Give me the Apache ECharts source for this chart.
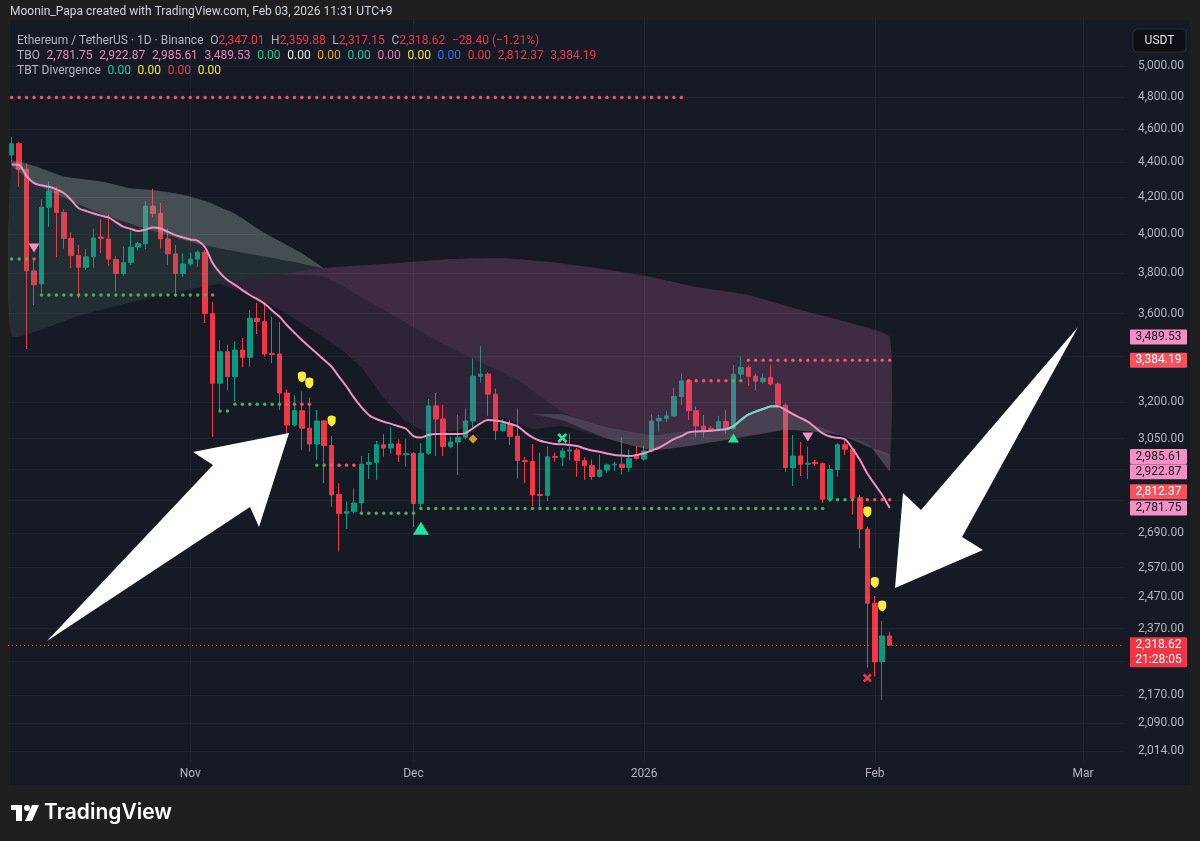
<!DOCTYPE html>
<html><head><meta charset="utf-8">
<script src="https://cdn.jsdelivr.net/npm/echarts@6/dist/echarts.min.js"></script>
<style>html,body{margin:0;padding:0;background:#1f1f1f;}#chart{width:1200px;height:841px;}</style>
</head><body><div id="chart"></div>
<script>
// ---------- DATA ----------
const firstDate = '2025-10-08';
const slotCount = 150; // days shown on the time axis (to early March)
const opens = [4443,4512,4360,3810,3745,4145,4236,4117,3978,3888,3828,3882,3985,3975,3868,3797,3852,3932,3950,4152,4112,3975,3897,3797,3845,3870,3905,3600,3282,3422,3311,3430,3397,3578,3562,3415,3412,3240,3105,3165,3092,3028,3122,3022,2832,2762,2768,2800,2948,2955,3025,3012,3028,2985,2990,2798,2991,3185,3130,3018,3036,3055,3122,3313,3322,3235,3082,3110,3060,2962,2958,2832,2828,2978,2975,3000,3004,2962,2942,2900,2925,2945,2948,2935,2984,2968,3000,3122,3133,3143,3225,3293,3165,3101,3092,3088,3120,3090,3322,3352,3313,3289,3307,3279,3188,2935,2980,2948,2955,2950,2814,2927,3025,3007,2820,2705,2451,2268,2347.01];
const highs = [4550,4520,4395,3865,4190,4290,4260,4135,4010,3945,3922,4030,4080,4105,3885,3935,4015,3960,4180,4250,4170,4030,3943,3900,3905,3915,3918,3655,3476,3455,3470,3485,3617,3652,3643,3585,3560,3255,3230,3246,3220,3168,3125,3060,2874,2805,2855,2980,2992,3041,3068,3096,3047,3047,2995,3031,3215,3240,3190,3058,3147,3175,3392,3447,3330,3260,3130,3125,3175,2977,3028,2994,3018,2994,3011,3071,3012,2975,2967,2985,2950,2958,3055,3006,3020,3020,3150,3147,3164,3262,3325,3300,3182,3147,3100,3143,3168,3362,3400,3360,3325,3325,3362,3285,3195,3064,3037,3018,2965,2955,2945,3032,3045,3010,2830,2715,2475,2394,2359.88];
const lows = [4404,4260,3435,3641,3700,4040,3880,3925,3824,3675,3815,3825,3900,3835,3706,3785,3840,3915,3922,4090,3925,3840,3680,3780,3835,3830,3555,3057,3160,3252,3205,3352,3355,3504,3400,3370,3168,3070,3100,3004,2997,2964,2874,2786,2625,2706,2762,2762,2890,2887,2977,2990,2957,2938,2712,2774,2984,2980,2980,3011,2906,3047,3096,3285,3143,3044,3078,3024,2893,2874,2789,2786,2807,2958,2940,2964,2899,2887,2887,2896,2914,2922,2908,2918,2966,2962,2995,3078,3118,3138,3189,3126,3055,3055,3078,3082,3071,3085,3304,3271,3250,3280,3272,3180,2918,2864,2902,2890,2940,2800,2805,2900,2984,2757,2637,2250,2224,2156,2317.15];
const closes = [4510,4360,3810,3740,4145,4236,4117,3978,3888,3828,3882,3980,3978,3870,3797,3852,3932,3950,4152,4112,3975,3897,3797,3845,3870,3905,3600,3282,3422,3311,3430,3397,3578,3562,3412,3410,3240,3105,3165,3092,3028,3122,3022,2830,2762,2768,2800,2948,2955,3025,3012,3028,2985,2990,2798,2991,3185,3130,3018,3036,3055,3122,3313,3322,3235,3082,3110,3058,2962,2958,2830,2828,2977,2975,3000,3004,2962,2942,2900,2925,2945,2948,2935,2970,2970,3000,3122,3133,3143,3225,3293,3165,3101,3085,3088,3119,3090,3322,3352,3313,3291,3304,3279,3188,2935,2980,2948,2952,2950,2814,2927,3025,3007,2818,2705,2451,2268,2347,2318.62];

// TBO fast line (pink, teal while bullish)
const tboLine = [4388,4385,4320,4280,4268,4260,4245,4225,4185,4140,4125,4111,4100,4090,4065,4040,4028,4017,4025,4036,4030,4012,3995,3983,3972,3965,3930,3850,3800,3764,3740,3714,3690,3670,3648,3615,3585,3545,3510,3476,3445,3415,3385,3355,3310,3268,3220,3180,3147,3130,3119,3110,3100,3090,3060,3054,3064,3068,3068,3068,3068,3072,3092,3112,3126,3124,3119,3110,3100,3075,3055,3041,3034,3028,3027,3024,3020,3010,3002,2997,2990,2984,2982,2980,2984,2991,3002,3013,3030,3048,3060,3075,3079,3080,3082,3085,3088,3100,3126,3148,3161,3172,3183,3184,3168,3150,3135,3119,3095,3071,3058,3053,3047,3010,2965,2912,2870,2830,2781.75];
const tboTealFrom = 96, tboTealTo = 103;

// cloud edges: [day index, price]
const grayTop = [[-0.5,4410],[3,4380],[7,4318],[12,4290],[16,4252],[19,4241],[23,4215],[26,4180],[30,4110],[34,4006],[39,3900],[42,3822]];
const grayMid = [[-0.5,4380],[3,4280],[7,4200],[12,4110],[18,4030],[24,3960],[28,3925],[33,3890],[38,3855],[42,3822]];
const slowTop = [[-0.5,3495],[9,3590],[18,3672],[28,3745],[36,3792],[42,3825],[52,3850],[59,3870],[66,3874],[72,3856],[79,3822],[86,3779],[92,3729],[99,3690],[106,3617],[113,3553],[118,3489.53]];
const purpleMid = [[28,3745],[36,3790],[42,3780],[50,3617],[59,3440],[68,3296],[74,3160],[80,3090],[86,3064],[90,3078],[96,3092],[99,3142],[102,3189],[104,3175],[108,3105],[112,3058],[115,3018],[118,2985.61]];
const purpleLow = [[28,3745],[32,3690],[36,3620],[41,3510],[44,3440],[47,3350],[50,3220],[53,3120],[56,3075],[60,3085],[63,3120],[66,3135],[70,3090],[74,3100],[80,3050],[86,3004],[91,3020],[96,3044],[100,3065],[104,3085],[110,3071],[115,3031],[118,2922.87]];
const grayLowTop = [[70,3150],[74,3150],[80,3095],[86,3064],[90,3078],[96,3092],[99,3142],[102,3189],[104,3175],[108,3105],[112,3058],[115,3018],[118,2985.61]];
const grayLowBot = [[70,3150],[74,3125],[80,3050],[86,3004],[91,3020],[96,3044],[100,3065],[104,3085],[110,3071],[115,3031],[118,2922.87]];

// dotted support / resistance levels
const levelStart = [0,3,4,27,28,30,37,41,43,47,55,110,114,91,97,99,0];
const levelEnd   = [2,3,26,27,29,36,40,42,46,54,109,113,118,96,98,118,90];
const levelPrice = [3870,3870,3690,3690,3164,3192,3192,2944,2944,2762,2780,2812.37,2812.37,3293,3293,3384.19,4795];
const levelSide  = ['g','r','g','r','g','g','r','g','r','g','g','g','r','r','g','r','r'];

// signal markers
const markerIdx   = [3,39,40,43,55,62,74,97,107,115,116,117,115];
const markerPrice = [3927,3310,3283,3122,2708,3048,3052,3052,3056,2767,2520,2442,2220];
const markerKind  = ['bearTri','drop','drop','drop','bullTriBig','diamond','bullX','bullTri','bearTri','drop','drop','drop','bearX'];

// axis ticks
const xTickIdx = [24,54,85,116,144];
const xTickText = ['Nov','Dec','2026','Feb','Mar'];
const yTicks = [5000,4800,4600,4400,4200,4000,3800,3600,3400,3200,3050,2930,2810,2690,2570,2470,2370,2270,2170,2090,2014];
const yTicksHidden = [3400,2930,2810,2270];

// right-hand price tags
const tagValues = [3489.53,3384.19,2985.61,2922.87,2812.37,2781.75];
const tagKind   = ['pink','red','pink','pink','red','pink'];
const tagNudge  = [0,0,2,1,-8,0];
const lastPrice = 2318.62, countdown = '21:28:05';

// ---------- BUILD ----------
const categories = [];
(function(){ const d0 = new Date(firstDate + 'T00:00:00Z'); for (let i = 0; i < slotCount; i++) { categories.push(new Date(d0.getTime() + i*86400000).toISOString().slice(0,10)); } })();
const candles = opens.map((o,i)=>[o, closes[i], lows[i], highs[i]]);
const tealPart = tboLine.map((v,i)=> (i>=tboTealFrom && i<=tboTealTo) ? v : '-');
const levelDots = {g:[], r:[]};
levelStart.forEach((s,k)=>{ for (let i=s;i<=levelEnd[k];i++) levelDots[levelSide[k]].push([i, levelPrice[k]]); });
const fmt = v => v.toLocaleString('en-US',{minimumFractionDigits:2,maximumFractionDigits:2});

const PINK = '#f48fc4', TEAL = '#5fe0c4', RED = '#f23645', GREEN_C = '#089981';
const FONT = 'Roboto, "Noto Sans", sans-serif';
const XPATH = 'path://M2,0 L5,3 L8,0 L10,2 L7,5 L10,8 L8,10 L5,7 L2,10 L0,8 L3,5 L0,2 Z';
const DROP = 'path://M0,3 C0,1 1.5,0 4,0 C6.5,0 8,1 8,3 L8,7 C8,9 6,11 4,12 C2,11 0,9 0,7 Z';

const kindStyle = {
  bearTri:   {symbol:'triangle', symbolRotate:180, symbolSize:[11,9], color:PINK},
  drop:      {symbol:DROP, symbolSize:[8,11], color:'#ffeb3b'},
  bullTriBig:{symbol:'triangle', symbolSize:[16,13], color:'#1fe59f'},
  bullTri:   {symbol:'triangle', symbolSize:[11,9], color:'#1fe59f'},
  diamond:   {symbol:'diamond', symbolSize:[9,9], color:'#d99a2b'},
  bullX:     {symbol:XPATH, symbolSize:[10,10], color:'#26e0a6'},
  bearX:     {symbol:XPATH, symbolSize:[9,9], color:RED}
};
const markerData = markerIdx.map((x,k)=>{ const s = kindStyle[markerKind[k]]; return {value:[x, markerPrice[k]], symbol:s.symbol, symbolSize:s.symbolSize, symbolRotate:s.symbolRotate||0, itemStyle:{color:s.color, opacity:1}}; });

function band(upper, lower, fill, z){
  return {type:'custom', z:z, silent:true, clip:true, data:[[0,3000]], encode:{x:0,y:1},
    renderItem:function(params, api){
      if (params.dataIndex !== 0) return;
      const pts = upper.map(p=>api.coord(p)).concat(lower.slice().reverse().map(p=>api.coord(p)));
      return {type:'polygon', shape:{points:pts, smooth:0.15}, style:{fill:fill}};
    }};
}

const chart = echarts.init(document.getElementById('chart'), null, {renderer:'canvas'});
const option = {
  backgroundColor:'#1f1f1f',
  animation:false,
  textStyle:{fontFamily:FONT},
  grid:{left:8, width:1116, top:20, bottom:79, outerBoundsMode:'none', containLabel:false},
  xAxis:{type:'category', data:categories, boundaryGap:true,
    axisLine:{show:false}, axisTick:{show:false}, splitLine:{show:false},
    axisLabel:{color:'#b2b5be', fontSize:12, margin:6, fontFamily:FONT,
      interval:(i)=>xTickIdx.indexOf(i)>=0,
      formatter:(v,i)=>{ const k = xTickIdx.indexOf(i); return k>=0 ? xTickText[k] : ''; }}},
  yAxis:{type:'log', logBase:10, min:1985.6, max:5315, position:'right',
    axisLine:{show:false}, axisTick:{show:false}, axisLabel:{show:false}, splitLine:{show:false}},
  series:[
    {type:'line', data:[], z:1, silent:true,
      markLine:{silent:true, symbol:['none','none'], animation:false,
        data: yTicks.map(v=>({yAxis:v, lineStyle:{color:'rgba(255,255,255,0.045)', width:1, type:'solid'},
          label:{show: yTicksHidden.indexOf(v)<0, position:'end', distance:14, color:'#b2b5be', fontSize:12, fontFamily:FONT, formatter:()=>fmt(v)}}))
          .concat(xTickIdx.map(i=>({xAxis:categories[i], lineStyle:{color:'rgba(255,255,255,0.045)', width:1, type:'solid'}, label:{show:false}})))
      }},
    {type:'candlestick', data:candles, z:2, barWidth:5,
      itemStyle:{color:GREEN_C, color0:RED, borderColor:GREEN_C, borderColor0:RED, borderWidth:1}},
    band(grayTop, slowTop.filter(p=>p[0]<=42), 'rgba(90,140,120,0.18)', 3),
    band(grayTop, grayMid, 'rgba(160,165,165,0.28)', 3),
    band(slowTop.filter(p=>p[0]>=28), purpleLow, 'rgba(170,90,150,0.17)', 3),
    band(slowTop.filter(p=>p[0]>=28), purpleMid, 'rgba(200,110,170,0.11)', 3),
    band(grayLowTop, grayLowBot, 'rgba(150,150,160,0.26)', 3),
    {type:'line', data:tboLine, z:6, smooth:0.3, symbol:'none', silent:true, lineStyle:{color:PINK, width:2}},
    {type:'line', data:tealPart, z:7, smooth:0.3, symbol:'none', silent:true, lineStyle:{color:TEAL, width:2}},
    {type:'scatter', data:levelDots.g, z:8, symbol:'circle', symbolSize:3.5, silent:true, itemStyle:{color:'#4caf50', opacity:1}},
    {type:'scatter', data:levelDots.r, z:8, symbol:'circle', symbolSize:3.5, silent:true, itemStyle:{color:'#f7525f', opacity:1}},
    {type:'scatter', data:markerData, z:9, silent:true, itemStyle:{opacity:1}},
    {type:'line', data:[], z:9, silent:true,
      markLine:{silent:true, symbol:['none','none'], animation:false,
        data:[{yAxis:lastPrice, lineStyle:{color:RED, width:1, type:[1,3], opacity:0.9}, label:{show:false}}]}}
  ],
  graphic:[]
};
chart.setOption(option);

// ---------- DECORATION (panel, legend, tags, arrows, logo) ----------
const g = [];
g.push({type:'rect', z:-10, shape:{x:10,y:20,width:1180,height:765}, style:{fill:'#161a25'}, silent:true});
g.push({type:'text', x:10, y:12, style:{text:'Moonin_Papa created with TradingView.com, Feb 03, 2026 11:31 UTC+9', fill:'#d1d4dc', font:'12px '+FONT, verticalAlign:'middle'}});
const rich = {g:{fill:'#b2b5be', font:'12px '+FONT}, r:{fill:RED, font:'12px '+FONT}, p:{fill:'#ef86b8', font:'12px '+FONT},
  m:{fill:'#e07fc0', font:'12px '+FONT}, t:{fill:'#22c79a', font:'12px '+FONT}, w:{fill:'#e8e8e8', font:'12px '+FONT},
  o:{fill:'#e8a030', font:'12px '+FONT}, k:{fill:'#e57ab0', font:'12px '+FONT}, y:{fill:'#f5e337', font:'12px '+FONT},
  b:{fill:'#3f6be8', font:'12px '+FONT}};
g.push({type:'text', x:17, y:41, z:20, style:{verticalAlign:'middle', rich:rich,
  text:'{g|Ethereum / TetherUS · 1D · Binance}  {g|O}{r|2,347.01}  {g|H}{r|2,359.88}  {g|L}{r|2,317.15}  {g|C}{r|2,318.62}  {r|−28.40 (−1.21%)}'}});
g.push({type:'text', x:17, y:56, z:20, style:{verticalAlign:'middle', rich:rich,
  text:'{g|TBO}  {p|2,781.75}  {p|2,922.87}  {p|2,985.61}  {m|3,489.53}  {t|0.00}  {w|0.00}  {o|0.00}  {t|0.00}  {k|0.00}  {y|0.00}  {b|0.00}  {r|0.00}  {r|2,812.37}  {r|3,384.19}'}});
g.push({type:'text', x:17, y:71, z:20, style:{verticalAlign:'middle', rich:rich,
  text:'{g|TBT Divergence}  {t|0.00}  {y|0.00}  {r|0.00}  {y|0.00}'}});
// currency box
g.push({type:'rect', z:20, shape:{x:1133,y:29,width:53,height:23,r:4}, style:{fill:'#0e0f12', stroke:'#2a2d35', lineWidth:1}});
g.push({type:'text', x:1159.5, y:40.5, z:21, style:{text:'USDT', fill:'#e0e3eb', font:'12px '+FONT, align:'center', verticalAlign:'middle'}});
// price tags, placed through the y scale
tagValues.forEach((v,k)=>{
  const y = chart.convertToPixel({yAxisIndex:0}, v) + tagNudge[k];
  const bg = tagKind[k]==='pink' ? PINK : '#f5525d';
  const fg = tagKind[k]==='pink' ? '#131722' : '#ffffff';
  g.push({type:'rect', z:30, shape:{x:1130,y:y-7.5,width:57,height:15,r:1}, style:{fill:bg}});
  g.push({type:'text', x:1158.5, y:y, z:31, style:{text:fmt(v), fill:fg, font:'12px '+FONT, align:'center', verticalAlign:'middle'}});
});
{ const y = chart.convertToPixel({yAxisIndex:0}, lastPrice);
  g.push({type:'rect', z:30, shape:{x:1130,y:y-8,width:57,height:30,r:1}, style:{fill:RED}});
  g.push({type:'text', x:1158.5, y:y, z:31, style:{text:fmt(lastPrice), fill:'#fff', font:'12px '+FONT, align:'center', verticalAlign:'middle'}});
  g.push({type:'text', x:1158.5, y:y+14.5, z:31, style:{text:countdown, fill:'#fff', font:'12px '+FONT, align:'center', verticalAlign:'middle'}}); }
// annotation arrows
g.push({type:'polygon', z:40, shape:{points:[[47,641],[213,465],[193,452],[289,433],[259,527],[250,507]]}, style:{fill:'#ffffff'}});
g.push({type:'polygon', z:40, shape:{points:[[1078,327],[962,537],[983,550],[895,588],[903,493],[921,510]]}, style:{fill:'#ffffff'}});
// logo
g.push({type:'rect', z:40, shape:{x:11,y:805,width:11,height:5}, style:{fill:'#fff'}});
g.push({type:'rect', z:40, shape:{x:16,y:805,width:6,height:16}, style:{fill:'#fff'}});
g.push({type:'circle', z:40, shape:{cx:27,cy:808,r:3}, style:{fill:'#fff'}});
g.push({type:'polygon', z:40, shape:{points:[[32,805],[39,805],[32,821],[25,821]]}, style:{fill:'#fff'}});
g.push({type:'text', x:44, y:813, z:40, style:{text:'TradingView', fill:'#ffffff', font:'600 21px Inter, '+FONT, verticalAlign:'middle'}});
chart.setOption({graphic:g});
</script>
</body></html>
